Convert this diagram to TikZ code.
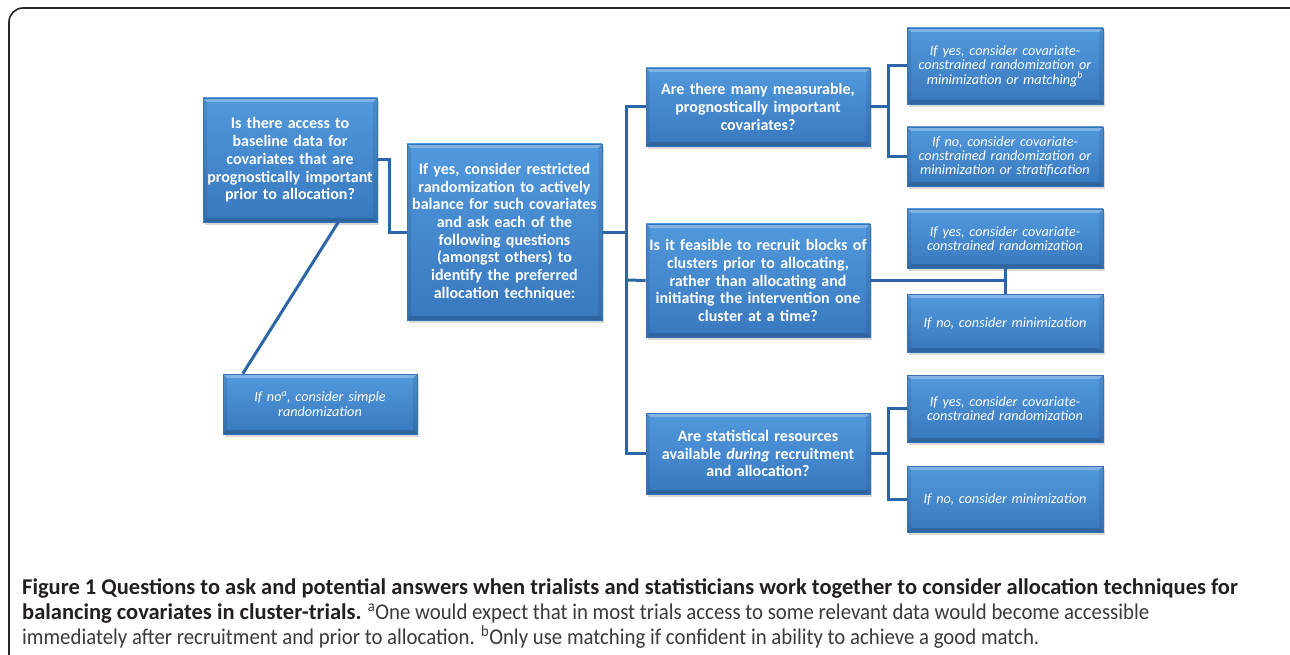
\documentclass[tikz,border=0pt]{standalone}
\usepackage{fontspec}
\setmainfont{Carlito}
\newfontfamily\capregfont[FakeStretch=0.925]{Carlito}
\usetikzlibrary{shadows,calc}
\definecolor{boxtop}{HTML}{5299DD}
\definecolor{boxbot}{HTML}{3878BE}
\definecolor{boxedge}{HTML}{3673B4}
\definecolor{linkc}{HTML}{2D66A6}
\definecolor{capdark}{HTML}{231F20}
\definecolor{capreg}{HTML}{3A3A3A}
\tikzset{
  qbox/.style={top color=boxtop, bottom color=boxbot, draw=boxedge, line width=0.6pt,
    drop shadow={shadow xshift=1.5pt, shadow yshift=-3pt, opacity=0.3},
    path picture={
      \fill[white, opacity=0.28] (path picture bounding box.north west) -- (path picture bounding box.north east)
        -- ([xshift=-4pt, yshift=-4pt]path picture bounding box.north east) -- ([xshift=4pt, yshift=-4pt]path picture bounding box.north west) -- cycle;
      \fill[black, opacity=0.16] (path picture bounding box.south west) -- (path picture bounding box.south east)
        -- ([xshift=-4pt, yshift=4pt]path picture bounding box.south east) -- ([xshift=4pt, yshift=4pt]path picture bounding box.south west) -- cycle;
      \fill[black, opacity=0.08] (path picture bounding box.north west) -- ([xshift=4pt, yshift=-4pt]path picture bounding box.north west)
        -- ([xshift=4pt, yshift=4pt]path picture bounding box.south west) -- (path picture bounding box.south west) -- cycle;
      \fill[black, opacity=0.08] (path picture bounding box.north east) -- ([xshift=-4pt, yshift=-4pt]path picture bounding box.north east)
        -- ([xshift=-4pt, yshift=4pt]path picture bounding box.south east) -- (path picture bounding box.south east) -- cycle;
    },
    text=white, align=center, inner sep=0pt,
    font=\bfseries\fontsize{16pt}{17.7pt}\selectfont},
  abox/.style={qbox, font=\itshape\fontsize{14.2pt}{14.4pt}\selectfont},
  link/.style={draw=linkc, line width=3pt},
  capline/.style={anchor=base west, inner sep=0pt, font=\capregfont\fontsize{22.5pt}{25pt}\selectfont},
}
\begin{document}
\begin{tikzpicture}[x=1pt,y=-1pt]
\useasboundingbox (0,0) rectangle (1290,655);
\fill[white] (0,0) rectangle (1290,655);
\begin{scope}
\clip (0,0) rectangle (1290,655);
\draw[line width=1.6pt, rounded corners=14pt, draw=black!85] (9,8) rectangle (1320,680);
\end{scope}

% boxes
\node[qbox, minimum width=174pt, minimum height=124pt, text width=172pt] (A) at (290,160)
 {Is there access to\\baseline data for\\covariates that are\\prognostically important\\prior to allocation?};
\node[qbox, minimum width=195pt, minimum height=176pt, text width=193pt] (B) at (504.5,232)
 {If yes, consider restricted\\randomization to actively\\balance for such covariates\\and ask each of the\\following questions\\(amongst others) to\\identify the preferred\\allocation technique:};
\node[qbox, minimum width=224pt, minimum height=78pt, text width=220pt] (C) at (758,107)
 {Are there many measurable,\\prognostically important\\covariates?};
\node[qbox, minimum width=224pt, minimum height=113pt, text width=220pt] (D) at (758,280.5)
 {Is it feasible to recruit blocks of\\clusters prior to allocating,\\rather than allocating and\\initiating the intervention one\\cluster at a time?};
\node[qbox, minimum width=224pt, minimum height=81pt, text width=220pt] (E) at (758,453.5)
 {Are statistical resources\\available \textit{during} recruitment\\and allocation?};
\node[abox, minimum width=196pt, minimum height=76pt, text width=194pt] (F1) at (1005,66)
 {If yes, consider covariate-\\constrained randomization or\\minimization or matching\textsuperscript{b}};
\node[abox, minimum width=196pt, minimum height=59pt, text width=194pt] (F2) at (1005,156.5)
 {If no, consider covariate-\\constrained randomization or\\minimization or stratification};
\node[abox, minimum width=196pt, minimum height=59pt, text width=194pt] (G1) at (1005,238.5)
 {If yes, consider covariate-\\constrained randomization};
\node[abox, minimum width=196pt, minimum height=58pt, text width=194pt] (G2) at (1005,323)
 {If no, consider minimization};
\node[abox, minimum width=196pt, minimum height=67pt, text width=194pt] (H1) at (1005,408.5)
 {If yes, consider covariate-\\constrained randomization};
\node[abox, minimum width=196pt, minimum height=66pt, text width=194pt] (H2) at (1005,499)
 {If no, consider minimization};
\node[abox, minimum width=194pt, minimum height=60pt, text width=192pt] (I) at (320,404)
 {If no\textsuperscript{a}, consider simple\\randomization};

% connectors
\coordinate (jA) at (389,196);
\draw[link] (A.east) -| (jA) |- (B.west);
\draw[link] ($(A.south west)!0.776!(A.south east)$) -- ($(I.north west)!0.103!(I.north east)$);
\coordinate (bus) at (626,280);
\draw[link] (B.east) -- (B.east -| bus);
\draw[link] (C.west) -| (bus) |- (E.west);
\draw[link] (D.west) -- (bus);
\coordinate (busF) at (888,107);
\draw[link] (C.east) -- (busF);
\draw[link] (F1.west) -| (busF) |- (F2.west);
\draw[link] (D.east) -- (G1.south |- D.east);
\draw[link] (G1.south) -- (G2.north);
\coordinate (busH) at (888,453.5);
\draw[link] (E.east) -- (busH);
\draw[link] (H1.west) -| (busH) |- (H2.west);

% caption
\node[capline, text=capdark] (cap1) at (22,594)
 {\setmainfont{Carlito}\bfseries Figure 1 Questions to ask and potential answers when trialists and statisticians work together to consider allocation techniques for};
\node[capline, text=capreg] (cap2) at (22,619)
 {\textcolor{capdark}{\rmfamily\bfseries balancing covariates in cluster-trials.} \textsuperscript{a}One would expect that in most trials access to some relevant data would become accessible};
\node[capline, text=capreg] (cap3) at (22,644)
 {immediately after recruitment and prior to allocation. \textsuperscript{b}Only use matching if confident in ability to achieve a good match.};
\end{tikzpicture}
\end{document}
